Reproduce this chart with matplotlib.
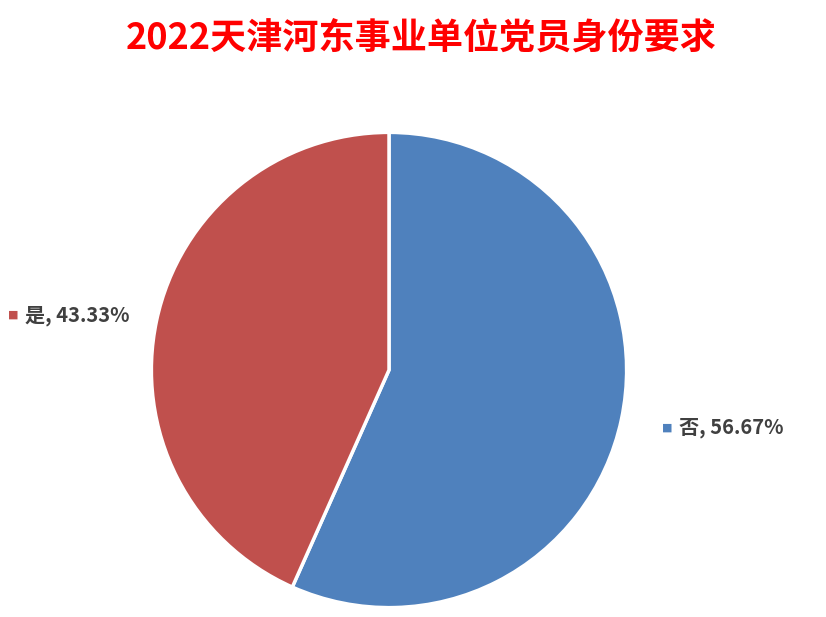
import matplotlib.pyplot as plt

plt.rcParams['font.family'] = ['Noto Sans CJK SC', 'DejaVu Sans']

labels = ['否', '是']
values = [56.67, 43.33]
colors = ['#4F81BD', '#C0504D']
title = '2022天津河东事业单位党员身份要求'

W, H = 826, 617
fig = plt.figure(figsize=(W / 100, H / 100), dpi=100)

# pie centre ~ (389, 370) px, radius ~240 px
cx, cy, r = 389, 370, 240
ax = fig.add_axes([(cx - r) / W, (H - cy - r) / H, 2 * r / W, 2 * r / H])
ax.pie(values, colors=colors, startangle=90, counterclock=False,
       wedgeprops=dict(edgecolor='white', linewidth=2.5))
ax.set_xlim(-1.01, 1.01)
ax.set_ylim(-1.01, 1.01)
ax.set_aspect('equal')

fig.text(0.5 + 8 / W, 1 - 38 / H, title, ha='center', va='center', color='#FF0000',
         fontsize=26, fontweight='bold')

# data labels with little colour squares
lab_pos = [(662, 428), (8, 315)]
for (px, py), lab, v, c in zip(lab_pos, labels, values, colors):
    fig.text(px / W, 1 - py / H, '■', color=c, fontsize=8, ha='left', va='center',
             family='DejaVu Sans')
    fig.text((px + 17) / W, 1 - py / H, '%s, %.2f%%' % (lab, v), color='#404040',
             fontsize=14.5, fontweight='bold', ha='left', va='center')

fig.savefig('out.png', dpi=100)
